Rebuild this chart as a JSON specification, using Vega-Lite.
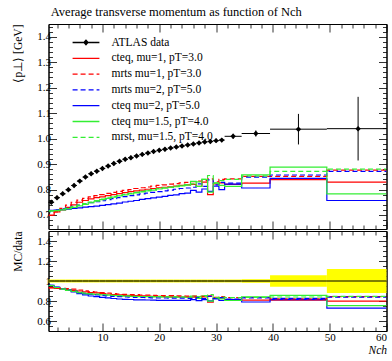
{
"$schema": "https://vega.github.io/schema/vega-lite/v6.json",
"padding": {"left": 11.5, "right": 4, "top": 6, "bottom": 0},
"background": "white",
"title": {"text": "Average transverse momentum as function of Nch", "anchor": "start", "dx": 38.5, "font": "Liberation Serif", "fontSize": 12.5, "fontWeight": "normal", "color": "black", "offset": 5},
"datasets": {
"atlas": [
{"x":1,"lo":0.5,"hi":1.5,"y":0.750,"ylo":0.742,"yhi":0.758,"rlo":0.985,"rhi":1.015},
{"x":2,"lo":1.5,"hi":2.5,"y":0.768,"ylo":0.760,"yhi":0.776,"rlo":0.985,"rhi":1.015},
{"x":3,"lo":2.5,"hi":3.5,"y":0.783,"ylo":0.775,"yhi":0.791,"rlo":0.985,"rhi":1.015},
{"x":4,"lo":3.5,"hi":4.5,"y":0.799,"ylo":0.791,"yhi":0.807,"rlo":0.985,"rhi":1.015},
{"x":5,"lo":4.5,"hi":5.5,"y":0.816,"ylo":0.808,"yhi":0.824,"rlo":0.985,"rhi":1.015},
{"x":6,"lo":5.5,"hi":6.5,"y":0.833,"ylo":0.825,"yhi":0.841,"rlo":0.985,"rhi":1.015},
{"x":7,"lo":6.5,"hi":7.5,"y":0.849,"ylo":0.841,"yhi":0.857,"rlo":0.985,"rhi":1.015},
{"x":8,"lo":7.5,"hi":8.5,"y":0.862,"ylo":0.854,"yhi":0.870,"rlo":0.985,"rhi":1.015},
{"x":9,"lo":8.5,"hi":9.5,"y":0.872,"ylo":0.864,"yhi":0.880,"rlo":0.985,"rhi":1.015},
{"x":10,"lo":9.5,"hi":10.5,"y":0.883,"ylo":0.875,"yhi":0.891,"rlo":0.985,"rhi":1.015},
{"x":11,"lo":10.5,"hi":11.5,"y":0.892,"ylo":0.884,"yhi":0.900,"rlo":0.985,"rhi":1.015},
{"x":12,"lo":11.5,"hi":12.5,"y":0.902,"ylo":0.894,"yhi":0.910,"rlo":0.985,"rhi":1.015},
{"x":13,"lo":12.5,"hi":13.5,"y":0.911,"ylo":0.903,"yhi":0.919,"rlo":0.985,"rhi":1.015},
{"x":14,"lo":13.5,"hi":14.5,"y":0.919,"ylo":0.911,"yhi":0.927,"rlo":0.985,"rhi":1.015},
{"x":15,"lo":14.5,"hi":15.5,"y":0.925,"ylo":0.917,"yhi":0.933,"rlo":0.985,"rhi":1.015},
{"x":16,"lo":15.5,"hi":16.5,"y":0.932,"ylo":0.924,"yhi":0.940,"rlo":0.985,"rhi":1.015},
{"x":17,"lo":16.5,"hi":17.5,"y":0.938,"ylo":0.930,"yhi":0.946,"rlo":0.985,"rhi":1.015},
{"x":18,"lo":17.5,"hi":18.5,"y":0.943,"ylo":0.935,"yhi":0.951,"rlo":0.985,"rhi":1.015},
{"x":19,"lo":18.5,"hi":19.5,"y":0.949,"ylo":0.941,"yhi":0.957,"rlo":0.985,"rhi":1.015},
{"x":20,"lo":19.5,"hi":20.5,"y":0.954,"ylo":0.946,"yhi":0.962,"rlo":0.985,"rhi":1.015},
{"x":21,"lo":20.5,"hi":21.5,"y":0.958,"ylo":0.950,"yhi":0.966,"rlo":0.985,"rhi":1.015},
{"x":22,"lo":21.5,"hi":22.5,"y":0.963,"ylo":0.955,"yhi":0.971,"rlo":0.985,"rhi":1.015},
{"x":23,"lo":22.5,"hi":23.5,"y":0.967,"ylo":0.959,"yhi":0.975,"rlo":0.985,"rhi":1.015},
{"x":24,"lo":23.5,"hi":24.5,"y":0.971,"ylo":0.963,"yhi":0.979,"rlo":0.985,"rhi":1.015},
{"x":25,"lo":24.5,"hi":25.5,"y":0.975,"ylo":0.967,"yhi":0.983,"rlo":0.985,"rhi":1.015},
{"x":26,"lo":25.5,"hi":26.5,"y":0.979,"ylo":0.971,"yhi":0.987,"rlo":0.985,"rhi":1.015},
{"x":27,"lo":26.5,"hi":27.5,"y":0.983,"ylo":0.975,"yhi":0.991,"rlo":0.985,"rhi":1.015},
{"x":28,"lo":27.5,"hi":28.5,"y":0.987,"ylo":0.979,"yhi":0.995,"rlo":0.985,"rhi":1.015},
{"x":29,"lo":28.5,"hi":29.5,"y":0.989,"ylo":0.981,"yhi":0.997,"rlo":0.985,"rhi":1.015},
{"x":30,"lo":29.5,"hi":30.5,"y":0.992,"ylo":0.984,"yhi":1.000,"rlo":0.985,"rhi":1.015},
{"x":31,"lo":30.5,"hi":31.5,"y":0.994,"ylo":0.986,"yhi":1.002,"rlo":0.985,"rhi":1.015},
{"x":33,"lo":31.5,"hi":34.5,"y":1.009,"ylo":0.999,"yhi":1.019,"rlo":0.985,"rhi":1.015},
{"x":37,"lo":34.5,"hi":39.5,"y":1.020,"ylo":1.008,"yhi":1.032,"rlo":0.982,"rhi":1.018},
{"x":44.5,"lo":39.5,"hi":49.5,"y":1.037,"ylo":0.977,"yhi":1.097,"rlo":0.942,"rhi":1.058},
{"x":55,"lo":49.5,"hi":60,"y":1.039,"ylo":0.914,"yhi":1.164,"rlo":0.880,"rhi":1.120}
],
"mc": [
{"s":"cteq, mu=1, pT=3.0","i":1,"lo":0.5,"hi":1.5,"y":0.700,"r":0.933},
{"s":"cteq, mu=1, pT=3.0","i":2,"lo":1.5,"hi":2.5,"y":0.712,"r":0.927},
{"s":"cteq, mu=1, pT=3.0","i":3,"lo":2.5,"hi":3.5,"y":0.720,"r":0.920},
{"s":"cteq, mu=1, pT=3.0","i":4,"lo":3.5,"hi":4.5,"y":0.730,"r":0.914},
{"s":"cteq, mu=1, pT=3.0","i":5,"lo":4.5,"hi":5.5,"y":0.740,"r":0.907},
{"s":"cteq, mu=1, pT=3.0","i":6,"lo":5.5,"hi":6.5,"y":0.750,"r":0.900},
{"s":"cteq, mu=1, pT=3.0","i":7,"lo":6.5,"hi":7.5,"y":0.757,"r":0.892},
{"s":"cteq, mu=1, pT=3.0","i":8,"lo":7.5,"hi":8.5,"y":0.763,"r":0.885},
{"s":"cteq, mu=1, pT=3.0","i":9,"lo":8.5,"hi":9.5,"y":0.768,"r":0.881},
{"s":"cteq, mu=1, pT=3.0","i":10,"lo":9.5,"hi":10.5,"y":0.771,"r":0.873},
{"s":"cteq, mu=1, pT=3.0","i":11,"lo":10.5,"hi":11.5,"y":0.776,"r":0.870},
{"s":"cteq, mu=1, pT=3.0","i":12,"lo":11.5,"hi":12.5,"y":0.780,"r":0.865},
{"s":"cteq, mu=1, pT=3.0","i":13,"lo":12.5,"hi":13.5,"y":0.784,"r":0.861},
{"s":"cteq, mu=1, pT=3.0","i":14,"lo":13.5,"hi":14.5,"y":0.788,"r":0.857},
{"s":"cteq, mu=1, pT=3.0","i":15,"lo":14.5,"hi":15.5,"y":0.792,"r":0.856},
{"s":"cteq, mu=1, pT=3.0","i":16,"lo":15.5,"hi":16.5,"y":0.795,"r":0.853},
{"s":"cteq, mu=1, pT=3.0","i":17,"lo":16.5,"hi":17.5,"y":0.798,"r":0.851},
{"s":"cteq, mu=1, pT=3.0","i":18,"lo":17.5,"hi":18.5,"y":0.801,"r":0.849},
{"s":"cteq, mu=1, pT=3.0","i":19,"lo":18.5,"hi":19.5,"y":0.804,"r":0.847},
{"s":"cteq, mu=1, pT=3.0","i":20,"lo":19.5,"hi":20.5,"y":0.807,"r":0.846},
{"s":"cteq, mu=1, pT=3.0","i":21,"lo":20.5,"hi":21.5,"y":0.809,"r":0.844},
{"s":"cteq, mu=1, pT=3.0","i":22,"lo":21.5,"hi":22.5,"y":0.811,"r":0.842},
{"s":"cteq, mu=1, pT=3.0","i":23,"lo":22.5,"hi":23.5,"y":0.813,"r":0.841},
{"s":"cteq, mu=1, pT=3.0","i":24,"lo":23.5,"hi":24.5,"y":0.816,"r":0.840},
{"s":"cteq, mu=1, pT=3.0","i":25,"lo":24.5,"hi":25.5,"y":0.818,"r":0.839},
{"s":"cteq, mu=1, pT=3.0","i":26,"lo":25.5,"hi":26.5,"y":0.820,"r":0.838},
{"s":"cteq, mu=1, pT=3.0","i":27,"lo":26.5,"hi":27.5,"y":0.812,"r":0.826},
{"s":"cteq, mu=1, pT=3.0","i":28,"lo":27.5,"hi":28.5,"y":0.829,"r":0.840},
{"s":"cteq, mu=1, pT=3.0","i":29,"lo":28.5,"hi":29.5,"y":0.780,"r":0.789},
{"s":"cteq, mu=1, pT=3.0","i":30,"lo":29.5,"hi":30.5,"y":0.822,"r":0.829},
{"s":"cteq, mu=1, pT=3.0","i":31,"lo":30.5,"hi":31.5,"y":0.826,"r":0.831},
{"s":"cteq, mu=1, pT=3.0","i":32,"lo":31.5,"hi":34.5,"y":0.820,"r":0.813},
{"s":"cteq, mu=1, pT=3.0","i":33,"lo":34.5,"hi":39.5,"y":0.825,"r":0.809},
{"s":"cteq, mu=1, pT=3.0","i":34,"lo":39.5,"hi":49.5,"y":0.839,"r":0.809},
{"s":"cteq, mu=1, pT=3.0","i":35,"lo":49.5,"hi":60,"y":0.829,"r":0.798},
{"s":"mrts mu=1, pT=3.0","i":1,"lo":0.5,"hi":1.5,"y":0.698,"r":0.931},
{"s":"mrts mu=1, pT=3.0","i":2,"lo":1.5,"hi":2.5,"y":0.712,"r":0.927},
{"s":"mrts mu=1, pT=3.0","i":3,"lo":2.5,"hi":3.5,"y":0.726,"r":0.927},
{"s":"mrts mu=1, pT=3.0","i":4,"lo":3.5,"hi":4.5,"y":0.739,"r":0.925},
{"s":"mrts mu=1, pT=3.0","i":5,"lo":4.5,"hi":5.5,"y":0.750,"r":0.919},
{"s":"mrts mu=1, pT=3.0","i":6,"lo":5.5,"hi":6.5,"y":0.758,"r":0.910},
{"s":"mrts mu=1, pT=3.0","i":7,"lo":6.5,"hi":7.5,"y":0.765,"r":0.901},
{"s":"mrts mu=1, pT=3.0","i":8,"lo":7.5,"hi":8.5,"y":0.771,"r":0.894},
{"s":"mrts mu=1, pT=3.0","i":9,"lo":8.5,"hi":9.5,"y":0.776,"r":0.890},
{"s":"mrts mu=1, pT=3.0","i":10,"lo":9.5,"hi":10.5,"y":0.780,"r":0.883},
{"s":"mrts mu=1, pT=3.0","i":11,"lo":10.5,"hi":11.5,"y":0.785,"r":0.880},
{"s":"mrts mu=1, pT=3.0","i":12,"lo":11.5,"hi":12.5,"y":0.789,"r":0.875},
{"s":"mrts mu=1, pT=3.0","i":13,"lo":12.5,"hi":13.5,"y":0.793,"r":0.870},
{"s":"mrts mu=1, pT=3.0","i":14,"lo":13.5,"hi":14.5,"y":0.797,"r":0.867},
{"s":"mrts mu=1, pT=3.0","i":15,"lo":14.5,"hi":15.5,"y":0.800,"r":0.865},
{"s":"mrts mu=1, pT=3.0","i":16,"lo":15.5,"hi":16.5,"y":0.804,"r":0.863},
{"s":"mrts mu=1, pT=3.0","i":17,"lo":16.5,"hi":17.5,"y":0.807,"r":0.860},
{"s":"mrts mu=1, pT=3.0","i":18,"lo":17.5,"hi":18.5,"y":0.810,"r":0.859},
{"s":"mrts mu=1, pT=3.0","i":19,"lo":18.5,"hi":19.5,"y":0.813,"r":0.857},
{"s":"mrts mu=1, pT=3.0","i":20,"lo":19.5,"hi":20.5,"y":0.816,"r":0.855},
{"s":"mrts mu=1, pT=3.0","i":21,"lo":20.5,"hi":21.5,"y":0.818,"r":0.854},
{"s":"mrts mu=1, pT=3.0","i":22,"lo":21.5,"hi":22.5,"y":0.821,"r":0.853},
{"s":"mrts mu=1, pT=3.0","i":23,"lo":22.5,"hi":23.5,"y":0.823,"r":0.851},
{"s":"mrts mu=1, pT=3.0","i":24,"lo":23.5,"hi":24.5,"y":0.826,"r":0.851},
{"s":"mrts mu=1, pT=3.0","i":25,"lo":24.5,"hi":25.5,"y":0.828,"r":0.849},
{"s":"mrts mu=1, pT=3.0","i":26,"lo":25.5,"hi":26.5,"y":0.831,"r":0.849},
{"s":"mrts mu=1, pT=3.0","i":27,"lo":26.5,"hi":27.5,"y":0.833,"r":0.847},
{"s":"mrts mu=1, pT=3.0","i":28,"lo":27.5,"hi":28.5,"y":0.835,"r":0.846},
{"s":"mrts mu=1, pT=3.0","i":29,"lo":28.5,"hi":29.5,"y":0.842,"r":0.851},
{"s":"mrts mu=1, pT=3.0","i":30,"lo":29.5,"hi":30.5,"y":0.830,"r":0.837},
{"s":"mrts mu=1, pT=3.0","i":31,"lo":30.5,"hi":31.5,"y":0.840,"r":0.845},
{"s":"mrts mu=1, pT=3.0","i":32,"lo":31.5,"hi":34.5,"y":0.842,"r":0.834},
{"s":"mrts mu=1, pT=3.0","i":33,"lo":34.5,"hi":39.5,"y":0.852,"r":0.835},
{"s":"mrts mu=1, pT=3.0","i":34,"lo":39.5,"hi":49.5,"y":0.852,"r":0.822},
{"s":"mrts mu=1, pT=3.0","i":35,"lo":49.5,"hi":60,"y":0.876,"r":0.843},
{"s":"mrts mu=2, pT=5.0","i":1,"lo":0.5,"hi":1.5,"y":0.717,"r":0.956},
{"s":"mrts mu=2, pT=5.0","i":2,"lo":1.5,"hi":2.5,"y":0.720,"r":0.938},
{"s":"mrts mu=2, pT=5.0","i":3,"lo":2.5,"hi":3.5,"y":0.724,"r":0.925},
{"s":"mrts mu=2, pT=5.0","i":4,"lo":3.5,"hi":4.5,"y":0.729,"r":0.912},
{"s":"mrts mu=2, pT=5.0","i":5,"lo":4.5,"hi":5.5,"y":0.734,"r":0.900},
{"s":"mrts mu=2, pT=5.0","i":6,"lo":5.5,"hi":6.5,"y":0.739,"r":0.887},
{"s":"mrts mu=2, pT=5.0","i":7,"lo":6.5,"hi":7.5,"y":0.744,"r":0.876},
{"s":"mrts mu=2, pT=5.0","i":8,"lo":7.5,"hi":8.5,"y":0.748,"r":0.868},
{"s":"mrts mu=2, pT=5.0","i":9,"lo":8.5,"hi":9.5,"y":0.752,"r":0.862},
{"s":"mrts mu=2, pT=5.0","i":10,"lo":9.5,"hi":10.5,"y":0.756,"r":0.856},
{"s":"mrts mu=2, pT=5.0","i":11,"lo":10.5,"hi":11.5,"y":0.760,"r":0.852},
{"s":"mrts mu=2, pT=5.0","i":12,"lo":11.5,"hi":12.5,"y":0.764,"r":0.847},
{"s":"mrts mu=2, pT=5.0","i":13,"lo":12.5,"hi":13.5,"y":0.768,"r":0.843},
{"s":"mrts mu=2, pT=5.0","i":14,"lo":13.5,"hi":14.5,"y":0.772,"r":0.840},
{"s":"mrts mu=2, pT=5.0","i":15,"lo":14.5,"hi":15.5,"y":0.776,"r":0.839},
{"s":"mrts mu=2, pT=5.0","i":16,"lo":15.5,"hi":16.5,"y":0.779,"r":0.836},
{"s":"mrts mu=2, pT=5.0","i":17,"lo":16.5,"hi":17.5,"y":0.783,"r":0.835},
{"s":"mrts mu=2, pT=5.0","i":18,"lo":17.5,"hi":18.5,"y":0.786,"r":0.834},
{"s":"mrts mu=2, pT=5.0","i":19,"lo":18.5,"hi":19.5,"y":0.789,"r":0.831},
{"s":"mrts mu=2, pT=5.0","i":20,"lo":19.5,"hi":20.5,"y":0.792,"r":0.830},
{"s":"mrts mu=2, pT=5.0","i":21,"lo":20.5,"hi":21.5,"y":0.795,"r":0.830},
{"s":"mrts mu=2, pT=5.0","i":22,"lo":21.5,"hi":22.5,"y":0.798,"r":0.829},
{"s":"mrts mu=2, pT=5.0","i":23,"lo":22.5,"hi":23.5,"y":0.801,"r":0.828},
{"s":"mrts mu=2, pT=5.0","i":24,"lo":23.5,"hi":24.5,"y":0.804,"r":0.828},
{"s":"mrts mu=2, pT=5.0","i":25,"lo":24.5,"hi":25.5,"y":0.806,"r":0.827},
{"s":"mrts mu=2, pT=5.0","i":26,"lo":25.5,"hi":26.5,"y":0.809,"r":0.826},
{"s":"mrts mu=2, pT=5.0","i":27,"lo":26.5,"hi":27.5,"y":0.822,"r":0.836},
{"s":"mrts mu=2, pT=5.0","i":28,"lo":27.5,"hi":28.5,"y":0.812,"r":0.823},
{"s":"mrts mu=2, pT=5.0","i":29,"lo":28.5,"hi":29.5,"y":0.838,"r":0.847},
{"s":"mrts mu=2, pT=5.0","i":30,"lo":29.5,"hi":30.5,"y":0.818,"r":0.825},
{"s":"mrts mu=2, pT=5.0","i":31,"lo":30.5,"hi":31.5,"y":0.828,"r":0.833},
{"s":"mrts mu=2, pT=5.0","i":32,"lo":31.5,"hi":34.5,"y":0.825,"r":0.818},
{"s":"mrts mu=2, pT=5.0","i":33,"lo":34.5,"hi":39.5,"y":0.849,"r":0.832},
{"s":"mrts mu=2, pT=5.0","i":34,"lo":39.5,"hi":49.5,"y":0.857,"r":0.826},
{"s":"mrts mu=2, pT=5.0","i":35,"lo":49.5,"hi":60,"y":0.871,"r":0.838},
{"s":"cteq mu=2, pT=5.0","i":1,"lo":0.5,"hi":1.5,"y":0.718,"r":0.957},
{"s":"cteq mu=2, pT=5.0","i":2,"lo":1.5,"hi":2.5,"y":0.719,"r":0.936},
{"s":"cteq mu=2, pT=5.0","i":3,"lo":2.5,"hi":3.5,"y":0.721,"r":0.921},
{"s":"cteq mu=2, pT=5.0","i":4,"lo":3.5,"hi":4.5,"y":0.723,"r":0.905},
{"s":"cteq mu=2, pT=5.0","i":5,"lo":4.5,"hi":5.5,"y":0.726,"r":0.890},
{"s":"cteq mu=2, pT=5.0","i":6,"lo":5.5,"hi":6.5,"y":0.728,"r":0.874},
{"s":"cteq mu=2, pT=5.0","i":7,"lo":6.5,"hi":7.5,"y":0.731,"r":0.861},
{"s":"cteq mu=2, pT=5.0","i":8,"lo":7.5,"hi":8.5,"y":0.733,"r":0.850},
{"s":"cteq mu=2, pT=5.0","i":9,"lo":8.5,"hi":9.5,"y":0.735,"r":0.843},
{"s":"cteq mu=2, pT=5.0","i":10,"lo":9.5,"hi":10.5,"y":0.738,"r":0.836},
{"s":"cteq mu=2, pT=5.0","i":11,"lo":10.5,"hi":11.5,"y":0.741,"r":0.831},
{"s":"cteq mu=2, pT=5.0","i":12,"lo":11.5,"hi":12.5,"y":0.744,"r":0.825},
{"s":"cteq mu=2, pT=5.0","i":13,"lo":12.5,"hi":13.5,"y":0.747,"r":0.820},
{"s":"cteq mu=2, pT=5.0","i":14,"lo":13.5,"hi":14.5,"y":0.751,"r":0.817},
{"s":"cteq mu=2, pT=5.0","i":15,"lo":14.5,"hi":15.5,"y":0.754,"r":0.815},
{"s":"cteq mu=2, pT=5.0","i":16,"lo":15.5,"hi":16.5,"y":0.757,"r":0.812},
{"s":"cteq mu=2, pT=5.0","i":17,"lo":16.5,"hi":17.5,"y":0.761,"r":0.811},
{"s":"cteq mu=2, pT=5.0","i":18,"lo":17.5,"hi":18.5,"y":0.764,"r":0.810},
{"s":"cteq mu=2, pT=5.0","i":19,"lo":18.5,"hi":19.5,"y":0.767,"r":0.808},
{"s":"cteq mu=2, pT=5.0","i":20,"lo":19.5,"hi":20.5,"y":0.770,"r":0.807},
{"s":"cteq mu=2, pT=5.0","i":21,"lo":20.5,"hi":21.5,"y":0.773,"r":0.807},
{"s":"cteq mu=2, pT=5.0","i":22,"lo":21.5,"hi":22.5,"y":0.777,"r":0.807},
{"s":"cteq mu=2, pT=5.0","i":23,"lo":22.5,"hi":23.5,"y":0.779,"r":0.806},
{"s":"cteq mu=2, pT=5.0","i":24,"lo":23.5,"hi":24.5,"y":0.784,"r":0.807},
{"s":"cteq mu=2, pT=5.0","i":25,"lo":24.5,"hi":25.5,"y":0.786,"r":0.806},
{"s":"cteq mu=2, pT=5.0","i":26,"lo":25.5,"hi":26.5,"y":0.797,"r":0.814},
{"s":"cteq mu=2, pT=5.0","i":27,"lo":26.5,"hi":27.5,"y":0.790,"r":0.804},
{"s":"cteq mu=2, pT=5.0","i":28,"lo":27.5,"hi":28.5,"y":0.802,"r":0.813},
{"s":"cteq mu=2, pT=5.0","i":29,"lo":28.5,"hi":29.5,"y":0.793,"r":0.802},
{"s":"cteq mu=2, pT=5.0","i":30,"lo":29.5,"hi":30.5,"y":0.813,"r":0.820},
{"s":"cteq mu=2, pT=5.0","i":31,"lo":30.5,"hi":31.5,"y":0.800,"r":0.805},
{"s":"cteq mu=2, pT=5.0","i":32,"lo":31.5,"hi":34.5,"y":0.821,"r":0.814},
{"s":"cteq mu=2, pT=5.0","i":33,"lo":34.5,"hi":39.5,"y":0.806,"r":0.790},
{"s":"cteq mu=2, pT=5.0","i":34,"lo":39.5,"hi":49.5,"y":0.844,"r":0.814},
{"s":"cteq mu=2, pT=5.0","i":35,"lo":49.5,"hi":60,"y":0.757,"r":0.729},
{"s":"cteq mu=1.5, pT=4.0","i":1,"lo":0.5,"hi":1.5,"y":0.716,"r":0.955},
{"s":"cteq mu=1.5, pT=4.0","i":2,"lo":1.5,"hi":2.5,"y":0.717,"r":0.934},
{"s":"cteq mu=1.5, pT=4.0","i":3,"lo":2.5,"hi":3.5,"y":0.720,"r":0.920},
{"s":"cteq mu=1.5, pT=4.0","i":4,"lo":3.5,"hi":4.5,"y":0.725,"r":0.907},
{"s":"cteq mu=1.5, pT=4.0","i":5,"lo":4.5,"hi":5.5,"y":0.730,"r":0.895},
{"s":"cteq mu=1.5, pT=4.0","i":6,"lo":5.5,"hi":6.5,"y":0.736,"r":0.884},
{"s":"cteq mu=1.5, pT=4.0","i":7,"lo":6.5,"hi":7.5,"y":0.742,"r":0.874},
{"s":"cteq mu=1.5, pT=4.0","i":8,"lo":7.5,"hi":8.5,"y":0.748,"r":0.868},
{"s":"cteq mu=1.5, pT=4.0","i":9,"lo":8.5,"hi":9.5,"y":0.754,"r":0.865},
{"s":"cteq mu=1.5, pT=4.0","i":10,"lo":9.5,"hi":10.5,"y":0.760,"r":0.861},
{"s":"cteq mu=1.5, pT=4.0","i":11,"lo":10.5,"hi":11.5,"y":0.765,"r":0.858},
{"s":"cteq mu=1.5, pT=4.0","i":12,"lo":11.5,"hi":12.5,"y":0.770,"r":0.854},
{"s":"cteq mu=1.5, pT=4.0","i":13,"lo":12.5,"hi":13.5,"y":0.775,"r":0.851},
{"s":"cteq mu=1.5, pT=4.0","i":14,"lo":13.5,"hi":14.5,"y":0.779,"r":0.848},
{"s":"cteq mu=1.5, pT=4.0","i":15,"lo":14.5,"hi":15.5,"y":0.783,"r":0.846},
{"s":"cteq mu=1.5, pT=4.0","i":16,"lo":15.5,"hi":16.5,"y":0.787,"r":0.844},
{"s":"cteq mu=1.5, pT=4.0","i":17,"lo":16.5,"hi":17.5,"y":0.791,"r":0.843},
{"s":"cteq mu=1.5, pT=4.0","i":18,"lo":17.5,"hi":18.5,"y":0.795,"r":0.843},
{"s":"cteq mu=1.5, pT=4.0","i":19,"lo":18.5,"hi":19.5,"y":0.798,"r":0.841},
{"s":"cteq mu=1.5, pT=4.0","i":20,"lo":19.5,"hi":20.5,"y":0.802,"r":0.841},
{"s":"cteq mu=1.5, pT=4.0","i":21,"lo":20.5,"hi":21.5,"y":0.805,"r":0.840},
{"s":"cteq mu=1.5, pT=4.0","i":22,"lo":21.5,"hi":22.5,"y":0.808,"r":0.839},
{"s":"cteq mu=1.5, pT=4.0","i":23,"lo":22.5,"hi":23.5,"y":0.811,"r":0.839},
{"s":"cteq mu=1.5, pT=4.0","i":24,"lo":23.5,"hi":24.5,"y":0.814,"r":0.838},
{"s":"cteq mu=1.5, pT=4.0","i":25,"lo":24.5,"hi":25.5,"y":0.817,"r":0.838},
{"s":"cteq mu=1.5, pT=4.0","i":26,"lo":25.5,"hi":26.5,"y":0.832,"r":0.850},
{"s":"cteq mu=1.5, pT=4.0","i":27,"lo":26.5,"hi":27.5,"y":0.812,"r":0.826},
{"s":"cteq mu=1.5, pT=4.0","i":28,"lo":27.5,"hi":28.5,"y":0.840,"r":0.851},
{"s":"cteq mu=1.5, pT=4.0","i":29,"lo":28.5,"hi":29.5,"y":0.790,"r":0.799},
{"s":"cteq mu=1.5, pT=4.0","i":30,"lo":29.5,"hi":30.5,"y":0.825,"r":0.832},
{"s":"cteq mu=1.5, pT=4.0","i":31,"lo":30.5,"hi":31.5,"y":0.816,"r":0.821},
{"s":"cteq mu=1.5, pT=4.0","i":32,"lo":31.5,"hi":34.5,"y":0.812,"r":0.805},
{"s":"cteq mu=1.5, pT=4.0","i":33,"lo":34.5,"hi":39.5,"y":0.858,"r":0.841},
{"s":"cteq mu=1.5, pT=4.0","i":34,"lo":39.5,"hi":49.5,"y":0.888,"r":0.856},
{"s":"cteq mu=1.5, pT=4.0","i":35,"lo":49.5,"hi":60,"y":0.783,"r":0.754},
{"s":"mrst, mu=1.5, pT=4.0","i":1,"lo":0.5,"hi":1.5,"y":0.716,"r":0.955},
{"s":"mrst, mu=1.5, pT=4.0","i":2,"lo":1.5,"hi":2.5,"y":0.718,"r":0.935},
{"s":"mrst, mu=1.5, pT=4.0","i":3,"lo":2.5,"hi":3.5,"y":0.722,"r":0.922},
{"s":"mrst, mu=1.5, pT=4.0","i":4,"lo":3.5,"hi":4.5,"y":0.727,"r":0.910},
{"s":"mrst, mu=1.5, pT=4.0","i":5,"lo":4.5,"hi":5.5,"y":0.733,"r":0.898},
{"s":"mrst, mu=1.5, pT=4.0","i":6,"lo":5.5,"hi":6.5,"y":0.739,"r":0.887},
{"s":"mrst, mu=1.5, pT=4.0","i":7,"lo":6.5,"hi":7.5,"y":0.745,"r":0.878},
{"s":"mrst, mu=1.5, pT=4.0","i":8,"lo":7.5,"hi":8.5,"y":0.751,"r":0.871},
{"s":"mrst, mu=1.5, pT=4.0","i":9,"lo":8.5,"hi":9.5,"y":0.757,"r":0.868},
{"s":"mrst, mu=1.5, pT=4.0","i":10,"lo":9.5,"hi":10.5,"y":0.762,"r":0.863},
{"s":"mrst, mu=1.5, pT=4.0","i":11,"lo":10.5,"hi":11.5,"y":0.767,"r":0.860},
{"s":"mrst, mu=1.5, pT=4.0","i":12,"lo":11.5,"hi":12.5,"y":0.772,"r":0.856},
{"s":"mrst, mu=1.5, pT=4.0","i":13,"lo":12.5,"hi":13.5,"y":0.777,"r":0.853},
{"s":"mrst, mu=1.5, pT=4.0","i":14,"lo":13.5,"hi":14.5,"y":0.781,"r":0.850},
{"s":"mrst, mu=1.5, pT=4.0","i":15,"lo":14.5,"hi":15.5,"y":0.785,"r":0.849},
{"s":"mrst, mu=1.5, pT=4.0","i":16,"lo":15.5,"hi":16.5,"y":0.789,"r":0.847},
{"s":"mrst, mu=1.5, pT=4.0","i":17,"lo":16.5,"hi":17.5,"y":0.793,"r":0.845},
{"s":"mrst, mu=1.5, pT=4.0","i":18,"lo":17.5,"hi":18.5,"y":0.797,"r":0.845},
{"s":"mrst, mu=1.5, pT=4.0","i":19,"lo":18.5,"hi":19.5,"y":0.800,"r":0.843},
{"s":"mrst, mu=1.5, pT=4.0","i":20,"lo":19.5,"hi":20.5,"y":0.804,"r":0.843},
{"s":"mrst, mu=1.5, pT=4.0","i":21,"lo":20.5,"hi":21.5,"y":0.807,"r":0.842},
{"s":"mrst, mu=1.5, pT=4.0","i":22,"lo":21.5,"hi":22.5,"y":0.810,"r":0.841},
{"s":"mrst, mu=1.5, pT=4.0","i":23,"lo":22.5,"hi":23.5,"y":0.813,"r":0.841},
{"s":"mrst, mu=1.5, pT=4.0","i":24,"lo":23.5,"hi":24.5,"y":0.816,"r":0.840},
{"s":"mrst, mu=1.5, pT=4.0","i":25,"lo":24.5,"hi":25.5,"y":0.819,"r":0.840},
{"s":"mrst, mu=1.5, pT=4.0","i":26,"lo":25.5,"hi":26.5,"y":0.822,"r":0.840},
{"s":"mrst, mu=1.5, pT=4.0","i":27,"lo":26.5,"hi":27.5,"y":0.830,"r":0.844},
{"s":"mrst, mu=1.5, pT=4.0","i":28,"lo":27.5,"hi":28.5,"y":0.840,"r":0.851},
{"s":"mrst, mu=1.5, pT=4.0","i":29,"lo":28.5,"hi":29.5,"y":0.855,"r":0.865},
{"s":"mrst, mu=1.5, pT=4.0","i":30,"lo":29.5,"hi":30.5,"y":0.826,"r":0.833},
{"s":"mrst, mu=1.5, pT=4.0","i":31,"lo":30.5,"hi":31.5,"y":0.835,"r":0.840},
{"s":"mrst, mu=1.5, pT=4.0","i":32,"lo":31.5,"hi":34.5,"y":0.840,"r":0.833},
{"s":"mrst, mu=1.5, pT=4.0","i":33,"lo":34.5,"hi":39.5,"y":0.854,"r":0.837},
{"s":"mrst, mu=1.5, pT=4.0","i":34,"lo":39.5,"hi":49.5,"y":0.871,"r":0.840},
{"s":"mrst, mu=1.5, pT=4.0","i":35,"lo":49.5,"hi":60,"y":0.880,"r":0.847}
]
},
"spacing": 0,
"vconcat": [
{
"width": 338, "height": 205,
"layer": [
{
"data": {"name": "mc"},
"transform": [{"fold": ["lo", "hi"], "as": ["k", "xv"]}],
"mark": {"type": "line", "strokeWidth": 1.2, "clip": true},
"encoding": {
"x": {"field": "xv", "type": "quantitative", "scale": {"domain": [0.5, 60], "nice": false, "zero": false}, "axis": {"orient": "bottom", "values": [10,20,30,40,50,60], "tickSize": -8, "labels": false, "title": null}},
"y": {"field": "y", "type": "quantitative", "scale": {"domain": [0.645, 1.45], "nice": false, "zero": false}, "axis": {"orient": "left", "values": [0.7,0.8,0.9,1.0,1.1,1.2,1.3,1.4], "tickSize": -8, "format": ".1f", "labelPadding": 6, "labelOverlap": false, "title": "⟨p⊥⟩ [GeV]", "titleAnchor": "end", "titlePadding": 13.5}},
"color": {"field": "s", "type": "nominal",
"scale": {"domain": ["ATLAS data","cteq, mu=1, pT=3.0","mrts mu=1, pT=3.0","mrts mu=2, pT=5.0","cteq mu=2, pT=5.0","cteq mu=1.5, pT=4.0","mrst, mu=1.5, pT=4.0"], "range": ["black","#ff0000","#ff0000","#0000ff","#0000ff","#33ee33","#33ee33"]},
"legend": {"title": null, "orient": "none", "legendX": 30, "legendY": 11, "labelFont": "Liberation Serif", "labelFontSize": 11.5, "labelColor": "black", "symbolSize": 180, "symbolStrokeWidth": 1.3, "rowPadding": 2.8, "labelOffset": 18, "padding": 0,
"encode": {"symbols": {"update": {
"shape": [{"test": "datum.value === 'ATLAS data'", "value": "M-2,0H2M-0.3,0L0,-0.34L0.3,0L0,0.34Z"}, {"value": "M-2,0H2"}],
"fill": [{"test": "datum.value === 'ATLAS data'", "value": "black"}, {"value": "transparent"}],
"strokeDash": [{"test": "indexof(datum.value,'mrts') >= 0 || indexof(datum.value,'mrst') >= 0", "value": [5,3]}, {"value": [1,0]}]
}}}}},
"strokeDash": {"field": "s", "type": "nominal", "scale": {"domain": ["ATLAS data","cteq, mu=1, pT=3.0","mrts mu=1, pT=3.0","mrts mu=2, pT=5.0","cteq mu=2, pT=5.0","cteq mu=1.5, pT=4.0","mrst, mu=1.5, pT=4.0"], "range": [[1,0],[1,0],[5,3],[5,3],[1,0],[1,0],[5,3]]}, "legend": null},
"order": [{"field": "i", "type": "quantitative"}, {"field": "k", "type": "nominal", "sort": "descending"}]
}
},
{
"data": {"name": "atlas"},
"mark": {"type": "rule", "color": "black", "strokeWidth": 1},
"encoding": {
"x": {"field": "lo", "type": "quantitative", "scale": {"domain": [0.5, 60], "nice": false, "zero": false}, "axis": {"orient": "bottom", "values": [2,4,6,8,12,14,16,18,22,24,26,28,32,34,36,38,42,44,46,48,52,54,56,58], "tickSize": -4, "labels": false, "title": null}},
"x2": {"field": "hi"},
"y": {"field": "y", "type": "quantitative", "scale": {"domain": [0.645, 1.45], "nice": false, "zero": false}, "axis": {"orient": "left", "values": [0.66,0.68,0.72,0.74,0.76,0.78,0.82,0.84,0.86,0.88,0.92,0.94,0.96,0.98,1.02,1.04,1.06,1.08,1.12,1.14,1.16,1.18,1.22,1.24,1.26,1.28,1.32,1.34,1.36,1.38,1.42,1.44], "tickSize": -4, "labels": false, "title": null}}
}
},
{
"data": {"name": "atlas"},
"mark": {"type": "rule", "color": "black", "strokeWidth": 1},
"encoding": {
"x": {"field": "x", "type": "quantitative", "scale": {"domain": [0.5, 60], "nice": false, "zero": false}, "axis": {"orient": "top", "values": [10,20,30,40,50,60], "tickSize": -8, "labels": false, "title": null}},
"y": {"field": "ylo", "type": "quantitative", "scale": {"domain": [0.645, 1.45], "nice": false, "zero": false}, "axis": {"orient": "right", "values": [0.7,0.8,0.9,1.0,1.1,1.2,1.3,1.4], "tickSize": -8, "labels": false, "title": null}},
"y2": {"field": "yhi"}
}
},
{
"data": {"name": "atlas"},
"mark": {"type": "point", "shape": "diamond", "filled": true, "size": 30, "color": "black", "opacity": 1},
"encoding": {
"x": {"field": "x", "type": "quantitative", "scale": {"domain": [0.5, 60], "nice": false, "zero": false}, "axis": {"orient": "top", "values": [2,4,6,8,12,14,16,18,22,24,26,28,32,34,36,38,42,44,46,48,52,54,56,58], "tickSize": -4, "labels": false, "title": null}},
"y": {"field": "y", "type": "quantitative", "scale": {"domain": [0.645, 1.45], "nice": false, "zero": false}, "axis": {"orient": "right", "values": [0.66,0.68,0.72,0.74,0.76,0.78,0.82,0.84,0.86,0.88,0.92,0.94,0.96,0.98,1.02,1.04,1.06,1.08,1.12,1.14,1.16,1.18,1.22,1.24,1.26,1.28,1.32,1.34,1.36,1.38,1.42,1.44], "tickSize": -4, "labels": false, "title": null}}
}
}
],
"resolve": {"axis": {"x": "independent", "y": "independent"}}
},
{
"width": 338, "height": 100,
"layer": [
{
"data": {"name": "atlas"},
"mark": {"type": "rect", "color": "#ffff00", "opacity": 1},
"encoding": {
"x": {"field": "lo", "type": "quantitative", "scale": {"domain": [0.5, 60], "nice": false, "zero": false}, "axis": {"orient": "bottom", "values": [10,20,30,40,50,60], "tickSize": -8, "labels": true, "labelFlush": true, "labelPadding": 8, "title": "Nch", "titleAnchor": "end", "titleFontStyle": "italic", "titlePadding": 2}},
"x2": {"field": "hi"},
"y": {"field": "rlo", "type": "quantitative", "scale": {"domain": [0.5, 1.5], "nice": false, "zero": false}, "axis": {"orient": "left", "values": [0.6,0.8,1,1.2,1.4], "tickSize": -8, "format": ".1~f", "labelPadding": 6, "labelOverlap": false, "title": "MC/data", "titleAnchor": "end", "titlePadding": 13.5}},
"y2": {"field": "rhi"}
}
},
{
"data": {"name": "atlas"},
"mark": {"type": "rule", "color": "black", "strokeWidth": 1.2},
"encoding": {
"x": {"field": "lo", "type": "quantitative", "scale": {"domain": [0.5, 60], "nice": false, "zero": false}, "axis": {"orient": "bottom", "values": [2,4,6,8,12,14,16,18,22,24,26,28,32,34,36,38,42,44,46,48,52,54,56,58], "tickSize": -4, "labels": false, "title": null}},
"x2": {"field": "hi"},
"y": {"datum": 1, "type": "quantitative", "scale": {"domain": [0.5, 1.5], "nice": false, "zero": false}, "axis": {"orient": "left", "values": [0.5,0.55,0.65,0.7,0.75,0.85,0.9,0.95,1.05,1.1,1.15,1.25,1.3,1.35,1.45,1.5], "tickSize": -4, "labels": false, "title": null}}
}
},
{
"data": {"name": "mc"},
"transform": [{"filter": "indexof(datum.s, 'cteq') >= 0"}, {"fold": ["lo", "hi"], "as": ["k", "xv"]}],
"mark": {"type": "line", "strokeWidth": 1.2, "clip": true},
"encoding": {
"x": {"field": "xv", "type": "quantitative", "scale": {"domain": [0.5, 60], "nice": false, "zero": false}, "axis": {"orient": "top", "values": [10,20,30,40,50,60], "tickSize": -8, "labels": false, "title": null}},
"y": {"field": "r", "type": "quantitative", "scale": {"domain": [0.5, 1.5], "nice": false, "zero": false}, "axis": {"orient": "right", "values": [0.6,0.8,1,1.2,1.4], "tickSize": -8, "labels": false, "title": null}},
"color": {"field": "s", "type": "nominal", "legend": null},
"strokeDash": {"field": "s", "type": "nominal", "legend": null},
"order": [{"field": "i", "type": "quantitative"}, {"field": "k", "type": "nominal", "sort": "descending"}]
}
},
{
"data": {"name": "mc"},
"transform": [{"filter": "indexof(datum.s, 'cteq') < 0"}, {"fold": ["lo", "hi"], "as": ["k", "xv"]}],
"mark": {"type": "line", "strokeWidth": 1.2, "clip": true},
"encoding": {
"x": {"field": "xv", "type": "quantitative", "scale": {"domain": [0.5, 60], "nice": false, "zero": false}, "axis": {"orient": "top", "values": [2,4,6,8,12,14,16,18,22,24,26,28,32,34,36,38,42,44,46,48,52,54,56,58], "tickSize": -4, "labels": false, "title": null}},
"y": {"field": "r", "type": "quantitative", "scale": {"domain": [0.5, 1.5], "nice": false, "zero": false}, "axis": {"orient": "right", "values": [0.5,0.55,0.65,0.7,0.75,0.85,0.9,0.95,1.05,1.1,1.15,1.25,1.3,1.35,1.45,1.5], "tickSize": -4, "labels": false, "title": null}},
"color": {"field": "s", "type": "nominal", "legend": null},
"strokeDash": {"field": "s", "type": "nominal", "legend": null},
"order": [{"field": "i", "type": "quantitative"}, {"field": "k", "type": "nominal", "sort": "descending"}]
}
}
],
"resolve": {"axis": {"x": "independent", "y": "independent"}}
}
],
"config": {
"font": "Liberation Serif",
"view": {"stroke": null},
"axis": {"domainColor": "black", "domainWidth": 1, "tickColor": "black", "tickWidth": 0.8, "labelColor": "black", "labelFont": "Liberation Serif", "labelFontSize": 11, "titleFont": "Liberation Serif", "titleFontSize": 11.5, "titleFontWeight": "normal", "titleColor": "black", "grid": false}
}
}
